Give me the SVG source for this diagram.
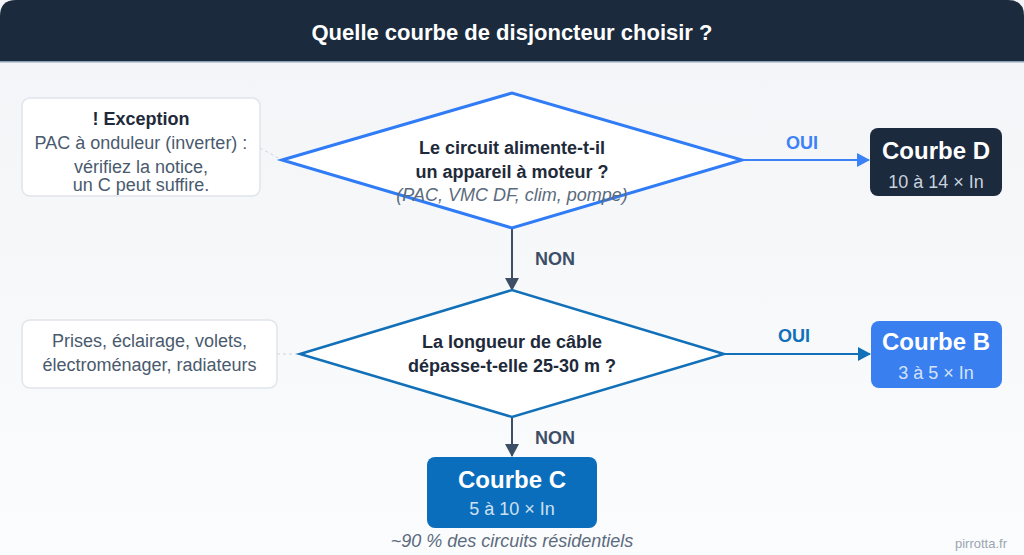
<svg xmlns="http://www.w3.org/2000/svg" width="1024" height="555" viewBox="0 0 1024 555">
<defs>
<linearGradient id="bg" x1="0" y1="0" x2="0" y2="1">
<stop offset="0" stop-color="#f2f4f7"/>
<stop offset="1" stop-color="#fbfcfd"/>
</linearGradient>
<marker id="ahBlue" markerWidth="13" markerHeight="14" refX="12" refY="7" orient="auto" markerUnits="userSpaceOnUse">
<path d="M0,0 L13,7 L0,14 Z" fill="#3b82f6"/>
</marker>
<marker id="ahMid" markerWidth="13" markerHeight="14" refX="12" refY="7" orient="auto" markerUnits="userSpaceOnUse">
<path d="M0,0 L13,7 L0,14 Z" fill="#1170b8"/>
</marker>
<marker id="ahDark" markerWidth="13" markerHeight="14" refX="12" refY="7" orient="auto" markerUnits="userSpaceOnUse">
<path d="M0,0 L13,7 L0,14 Z" fill="#3d4f66"/>
</marker>
</defs>
<style>
text{font-family:"Liberation Sans",Arial,sans-serif;text-anchor:middle}
.title{font-size:22px;font-weight:bold;fill:#ffffff}
.q{font-size:18px;font-weight:bold;fill:#1e2a3a}
.sub{font-size:18px;font-style:italic;fill:#5b6b7d}
.note{font-size:18px;fill:#4a5a6e}
.noteb{font-size:18px;font-weight:bold;fill:#1e2a3a}
.big{font-size:24px;font-weight:bold;fill:#ffffff}
.small{font-size:18px;fill:#c9d3de}
.lbl{font-size:18px;font-weight:bold}
.notebox{fill:#ffffff;stroke:#dfe5ec;stroke-width:1.5}
</style>
<rect width="1024" height="555" fill="url(#bg)"/>
<g id="header">
<path d="M0,61 L0,16 Q0,0 16,0 L1008,0 Q1024,0 1024,16 L1024,61 Z" fill="#1b2a3d"/>
<rect x="0" y="61" width="1024" height="1.5" fill="#8fa1b8"/>
<text class="title" x="512" y="40">Quelle courbe de disjoncteur choisir ?</text>
</g>
<g id="connectors">
<line x1="260" y1="148" x2="282" y2="160" stroke="#ccd4dd" stroke-width="1" stroke-dasharray="3,3"/>
<line x1="277" y1="354" x2="300" y2="354" stroke="#ccd4dd" stroke-width="1" stroke-dasharray="3,3"/>
<line x1="742" y1="160" x2="869" y2="160" stroke="#3b82f6" stroke-width="2" marker-end="url(#ahBlue)"/>
<text class="lbl" x="802" y="149" fill="#3b82f6">OUI</text>
<line x1="724" y1="354" x2="870" y2="354" stroke="#1170b8" stroke-width="2" marker-end="url(#ahMid)"/>
<text class="lbl" x="794" y="342" fill="#1170b8">OUI</text>
<line x1="512" y1="229" x2="512" y2="290" stroke="#3d4f66" stroke-width="2" marker-end="url(#ahDark)"/>
<text class="lbl" x="555" y="265" fill="#3d4f66">NON</text>
<line x1="512" y1="418" x2="512" y2="456" stroke="#3d4f66" stroke-width="2" marker-end="url(#ahDark)"/>
<text class="lbl" x="555" y="444" fill="#3d4f66">NON</text>
</g>
<g id="exception">
<rect class="notebox" x="22" y="98" width="238" height="98" rx="8"/>
<text class="noteb" x="141" y="125">! Exception</text>
<text class="note" x="141" y="149">PAC à onduleur (inverter) :</text>
<text class="note" x="141" y="173">vérifiez la notice,</text>
<text class="note" x="141" y="191">un C peut suffire.</text>
</g>
<g id="q1">
<polygon points="282,160 512,93 742,160 512,228" fill="#ffffff" stroke="#2f7cf6" stroke-width="3" stroke-linejoin="miter"/>
<text class="q" x="512" y="154">Le circuit alimente-t-il</text>
<text class="q" x="512" y="178">un appareil à moteur ?</text>
<text class="sub" x="512" y="201">(PAC, VMC DF, clim, pompe)</text>
</g>
<g id="courbeD">
<rect x="870" y="128" width="132" height="68" rx="8" fill="#1b2a3d"/>
<text class="big" x="936" y="159">Courbe D</text>
<text class="small" x="936" y="188">10 à 14 × In</text>
</g>
<g id="prises">
<rect class="notebox" x="22" y="320" width="255" height="68" rx="8"/>
<text class="note" x="149.5" y="347">Prises, éclairage, volets,</text>
<text class="note" x="149.5" y="371">électroménager, radiateurs</text>
</g>
<g id="q2">
<polygon points="300,354 512,290 724,354 512,417" fill="#ffffff" stroke="#1170b8" stroke-width="2.5"/>
<text class="q" x="512" y="348">La longueur de câble</text>
<text class="q" x="512" y="372">dépasse-t-elle 25-30 m ?</text>
</g>
<g id="courbeB">
<rect x="871" y="321" width="131" height="67" rx="8" fill="#3a7ff0"/>
<text class="big" x="936" y="350">Courbe B</text>
<text class="small" x="936" y="379" style="fill:#d4e3fb">3 à 5 × In</text>
</g>
<g id="courbeC">
<rect x="427" y="457" width="170" height="71" rx="8" fill="#0b6ebd"/>
<text class="big" x="512" y="488">Courbe C</text>
<text class="small" x="512" y="515" style="fill:#cfe0f1">5 à 10 × In</text>
<text class="sub" x="512" y="547">~90 % des circuits résidentiels</text>
</g>
<text x="981" y="548" style="font-size:13px;fill:#9aa5b1">pirrotta.fr</text>
</svg>
